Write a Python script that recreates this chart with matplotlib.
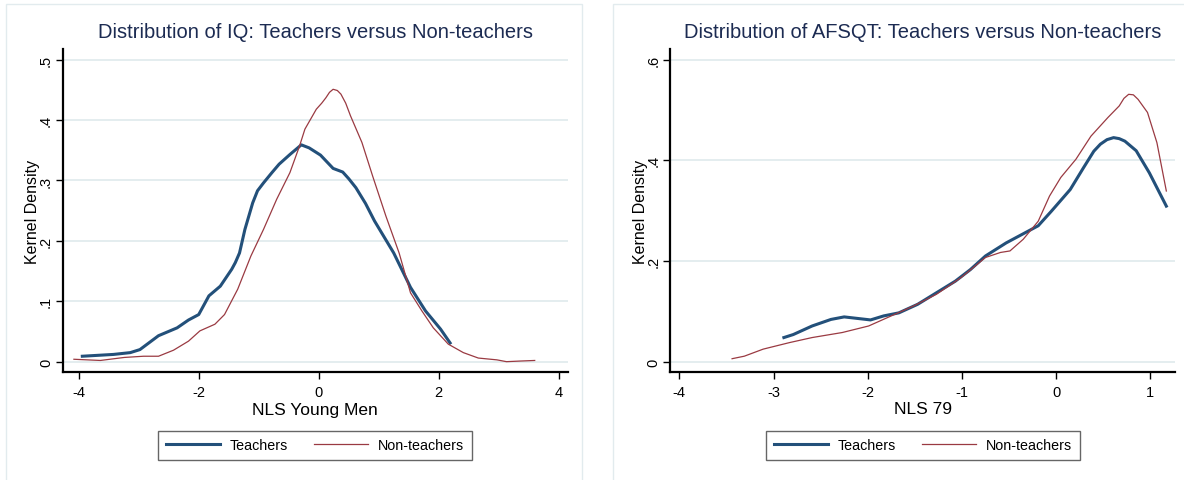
import matplotlib

matplotlib.use("Agg")
import matplotlib.pyplot as plt
from matplotlib.patches import Rectangle

# NLS Young Men, IQ (standardised) kernel density
iq_teach_x = [-3.94, -3.42, -3.14, -2.98, -2.67, -2.36, -2.17, -2.0, -1.83, -1.64,
              -1.45, -1.39, -1.32, -1.23, -1.10, -1.02, -0.92, -0.78, -0.66, -0.48,
              -0.29, -0.16, 0.03, 0.24, 0.40, 0.50, 0.62, 0.78, 0.93, 1.25,
              1.53, 1.78, 2.03, 2.19]
iq_teach_y = [0.009, 0.012, 0.015, 0.020, 0.043, 0.056, 0.069, 0.078, 0.109, 0.125,
              0.153, 0.164, 0.180, 0.219, 0.263, 0.283, 0.296, 0.313, 0.327, 0.343,
              0.359, 0.354, 0.342, 0.320, 0.314, 0.303, 0.288, 0.262, 0.233, 0.180,
              0.123, 0.084, 0.054, 0.031]
iq_non_x = [-4.08, -3.64, -3.24, -2.92, -2.67, -2.42, -2.17, -1.98, -1.73, -1.57,
            -1.35, -1.13, -0.92, -0.70, -0.48, -0.32, -0.23, -0.04, 0.05, 0.12,
            0.18, 0.24, 0.31, 0.37, 0.45, 0.53, 0.72, 0.90, 1.12, 1.34,
            1.53, 1.72, 1.91, 2.16, 2.41, 2.66, 2.97, 3.13, 3.35, 3.60]
iq_non_y = [0.004, 0.002, 0.007, 0.009, 0.009, 0.019, 0.034, 0.051, 0.062, 0.078,
            0.120, 0.175, 0.219, 0.269, 0.313, 0.357, 0.385, 0.418, 0.428, 0.437,
            0.446, 0.451, 0.449, 0.443, 0.428, 0.407, 0.363, 0.307, 0.241, 0.180,
            0.114, 0.084, 0.056, 0.029, 0.015, 0.006, 0.003, 0.000, 0.001, 0.002]

# NLS 79, AFQT kernel density
afqt_teach_x = [-2.89, -2.79, -2.59, -2.39, -2.25, -2.11, -1.97, -1.83, -1.67, -1.47,
                -1.27, -1.07, -0.91, -0.75, -0.53, -0.39, -0.19, -0.05, 0.15, 0.29,
                0.40, 0.47, 0.54, 0.61, 0.67, 0.73, 0.85, 0.99, 1.17]
afqt_teach_y = [0.048, 0.054, 0.071, 0.084, 0.089, 0.086, 0.083, 0.091, 0.097, 0.114,
                0.137, 0.160, 0.183, 0.210, 0.236, 0.250, 0.270, 0.299, 0.342, 0.385,
                0.418, 0.432, 0.441, 0.445, 0.443, 0.438, 0.419, 0.375, 0.309]
afqt_non_x = [-3.44, -3.31, -3.11, -2.83, -2.59, -2.27, -1.99, -1.75, -1.51, -1.27,
              -1.01, -0.75, -0.59, -0.49, -0.35, -0.19, -0.07, 0.05, 0.21, 0.37,
              0.55, 0.67, 0.72, 0.77, 0.82, 0.87, 0.97, 1.07, 1.17]
afqt_non_y = [0.006, 0.011, 0.025, 0.038, 0.048, 0.058, 0.071, 0.091, 0.111, 0.134,
              0.167, 0.207, 0.217, 0.220, 0.243, 0.279, 0.329, 0.366, 0.402, 0.448,
              0.485, 0.508, 0.523, 0.531, 0.530, 0.521, 0.495, 0.435, 0.339]

iq_xticks = [-4, -2, 0, 2, 4]
iq_yticks = [0, 0.1, 0.2, 0.3, 0.4, 0.5]
iq_ylabels = ["0", ".1", ".2", ".3", ".4", ".5"]
afqt_xticks = [-4, -3, -2, -1, 0, 1]
afqt_yticks = [0, 0.2, 0.4, 0.6]
afqt_ylabels = ["0", ".2", ".4", ".6"]

BLUE = "#23507a"
RED = "#9a3a42"
NAVY = "#1c2b52"
GRID = "#e4edef"
FONT = ["Liberation Sans", "DejaVu Sans"]

W, H = 1184, 481
fig = plt.figure(figsize=(W / 100, H / 100), dpi=100)
fig.patch.set_facecolor("white")


def px_box(x0, y0, x1, y1):
    """Pixel box (top-left origin) -> figure fraction [l, b, w, h]."""
    return [x0 / W, (H - y1) / H, (x1 - x0) / W, (y1 - y0) / H]


def panel(box, frame, tx, ty, nx, ny, xlim, ylim, xticks, yticks, ylabels,
          title, xlabel, cx):
    # light outer frame of the graph region (runs off the bottom edge)
    fig.add_artist(Rectangle((frame[0] / W, -0.02), (frame[1] - frame[0]) / W,
                             (H - 5) / H + 0.02, transform=fig.transFigure,
                             fill=False, ec="#e2ebee", lw=1.0))
    ax = fig.add_axes(px_box(*box))
    ax.plot(tx, ty, color=BLUE, lw=2.2, label="Teachers", zorder=3)
    ax.plot(nx, ny, color=RED, lw=0.9, label="Non-teachers", zorder=3)
    ax.set_xlim(*xlim)
    ax.set_ylim(*ylim)
    ax.set_xticks(xticks)
    ax.set_xticklabels([str(t) for t in xticks], fontfamily=FONT, fontsize=10.5)
    ax.set_yticks(yticks)
    ax.set_yticklabels(ylabels, rotation=90, va="center", fontfamily=FONT,
                       fontsize=10.5)
    ax.tick_params(axis="both", direction="out", length=5, width=1.0,
                   color="black", pad=4)
    ax.tick_params(axis="y", pad=2)
    for s in ("top", "right"):
        ax.spines[s].set_visible(False)
    for s in ("left", "bottom"):
        ax.spines[s].set_linewidth(1.6)
    ax.grid(axis="y", color=GRID, lw=1.4)
    ax.set_axisbelow(True)
    ax.set_ylabel("Kernel Density", fontfamily=FONT, fontsize=11.5, labelpad=-1)
    fig.text(cx / W, 1 - 33 / H, title, ha="center", va="center",
             color=NAVY, fontfamily=FONT, fontsize=14.5)
    fig.text(cx / W, 1 - 410 / H, xlabel, ha="center", va="center",
             color="black", fontfamily=FONT, fontsize=12.5)
    handles, labels = ax.get_legend_handles_labels()
    leg = fig.legend(handles, labels, loc="center", ncol=2,
                     bbox_to_anchor=(cx / W, 1 - 446.5 / H),
                     prop={"family": FONT, "size": 10.3},
                     frameon=True, fancybox=False, edgecolor="#404040",
                     handlelength=3.8, handletextpad=0.7, columnspacing=1.8,
                     borderpad=0.55)
    leg.get_frame().set_linewidth(1.0)
    return ax


panel((62.7, 50, 567.7, 373.3), (6, 582),
      iq_teach_x, iq_teach_y, iq_non_x, iq_non_y,
      (-4.267, 4.15), (-0.0176, 0.5177), iq_xticks, iq_yticks, iq_ylabels,
      "Distribution of IQ: Teachers versus Non-teachers", "NLS Young Men", 315)

panel((670, 50, 1175, 373.3), (613, 1190),
      afqt_teach_x, afqt_teach_y, afqt_non_x, afqt_non_y,
      (-4.099, 1.262), (-0.021, 0.621), afqt_xticks, afqt_yticks, afqt_ylabels,
      "Distribution of AFSQT: Teachers versus Non-teachers", "NLS 79", 923)

fig.savefig("out.png", dpi=100, facecolor="white")
